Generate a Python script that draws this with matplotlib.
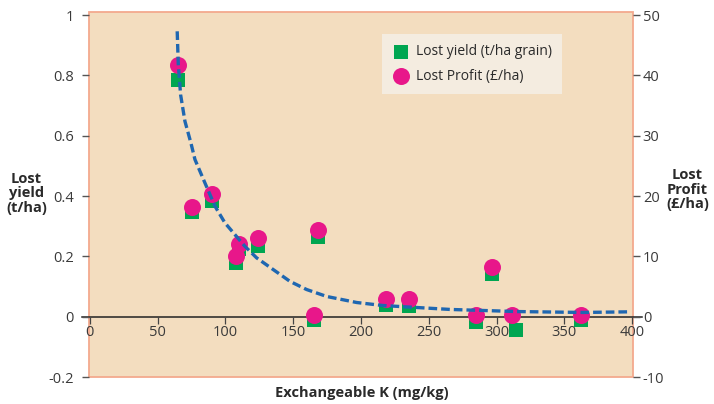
import matplotlib
matplotlib.use("Agg")
import matplotlib.pyplot as plt
from matplotlib.patches import Rectangle

plt.rcParams['font.family'] = ['Open Sans', 'DejaVu Sans']
plt.rcParams['axes.unicode_minus'] = False

# data
k_yield = [64.8, 75.6, 90.2, 107.7, 109.7, 123.8, 165.5, 168.6, 218.1, 235.4, 284.9, 296.5, 314.2, 362.2]
lost_yield = [0.784, 0.348, 0.382, 0.178, 0.225, 0.235, -0.01, 0.264, 0.040, 0.036, -0.016, 0.143, -0.043, -0.01]
k_profit = [64.8, 75.6, 90.2, 107.7, 109.7, 123.8, 165.5, 168.6, 218.1, 235.4, 284.9, 296.5, 311.7, 362.2]
lost_profit = [41.7, 18.2, 20.4, 10.1, 12.1, 13.05, 0.33, 14.4, 3.0, 3.0, 0.33, 8.2, 0.33, 0.33]

# trend curve (yield units)
fit_k = [64.4, 65.2, 66.9, 70.1, 74.5, 77.5, 84.9, 92.3, 99.6, 114.4, 123.0, 135.3, 147.6,
         159.9, 174.7, 196.8, 216.2, 265.7, 315.1, 363.8, 396.3]
fit_y = [0.946, 0.836, 0.736, 0.648, 0.576, 0.521, 0.443, 0.366, 0.311, 0.233, 0.195, 0.156, 0.117,
         0.090, 0.067, 0.047, 0.037, 0.024, 0.017, 0.014, 0.016]

x_ticks = [0, 50, 100, 150, 200, 250, 300, 350, 400]
left_ticks = [-0.2, 0, 0.2, 0.4, 0.6, 0.8, 1]
left_labels = ['-0.2', '0', '0.2', '0.4', '0.6', '0.8', '1']
right_ticks = [-10, 0, 10, 20, 30, 40, 50]

green = '#00a651'
pink = '#e8178a'
blue = '#1f67b1'
salmon = '#f3a98e'
txt = '#3a3a3a'

fig = plt.figure(figsize=(7.14, 4.04), dpi=100)
ax = fig.add_axes([0.1246, 0.0668, 0.762, 0.9035])
ax.set_facecolor('#f3ddbf')
ax.set_xlim(-0.7, 400.7)
ax.set_ylim(-0.2, 1.01)

for s in ['left', 'right', 'top']:
    ax.spines[s].set_visible(False)
ax.spines['bottom'].set_position(('data', 0))
ax.spines['bottom'].set_visible(False)
ax.add_patch(Rectangle((0, 0), 1, 1, transform=ax.transAxes, fill=False,
                       edgecolor=salmon, lw=1.3, clip_on=False, zorder=0.5))
ax.axhline(0, xmin=-0.012, xmax=1.016, color='#222222', lw=1.1, clip_on=False, zorder=1)

ax.set_xticks(x_ticks)
ax.set_xticklabels([str(v) for v in x_ticks])
ax.tick_params(axis='x', direction='out', length=5, width=0.9, color='#444444',
               labelsize=10.5, labelcolor=txt, pad=1)
ax.set_yticks(left_ticks)
ax.set_yticklabels(left_labels)
ax.tick_params(axis='y', direction='out', length=5, width=1, color='#555555',
               labelsize=10.5, labelcolor=txt, pad=6)

ax.scatter(k_yield, lost_yield, marker='s', s=95, color=green, linewidths=0, zorder=3,
           label='Lost yield (t/ha grain)')

ax2 = ax.twinx()
ax2.set_ylim(-10, 50.5)
for s in ax2.spines.values():
    s.set_visible(False)
ax2.set_yticks(right_ticks)
ax2.tick_params(axis='y', direction='out', length=5, width=1, color='#555555',
                labelsize=10.5, labelcolor=txt, pad=2)
ax2.scatter(k_profit, lost_profit, marker='o', s=150, color=pink, linewidths=0, zorder=3,
            label='Lost Profit (£/ha)')
ax2.plot(fit_k, fit_y, transform=ax.transData, color=blue, lw=2.4,
         linestyle=(0, (2.6, 1.2)), zorder=4)

h1, l1 = ax.get_legend_handles_labels()
h2, l2 = ax2.get_legend_handles_labels()
leg = ax2.legend(h1 + h2, l1 + l2, loc='upper left', bbox_to_anchor=(0.5386, 0.94),
                 borderaxespad=0, frameon=True, fancybox=False, facecolor='#f4ece0',
                 edgecolor='none', framealpha=1, fontsize=10, handletextpad=0.5,
                 labelspacing=0.7, borderpad=0.75, handlelength=1.2, scatterpoints=1)
for t in leg.get_texts():
    t.set_color('#2a2a2a')

fig.text(0.037, 0.522, 'Lost\nyield\n(t/ha)', ha='center', va='center', fontsize=10.5,
         fontweight='bold', color='#2a2a2a', linespacing=1.05)
fig.text(0.963, 0.53, 'Lost\nProfit\n(£/ha)', ha='center', va='center', fontsize=10.5,
         fontweight='bold', color='#2a2a2a', linespacing=1.05)
fig.text(0.507, 0.027, 'Exchangeable K (mg/kg)', ha='center', va='center', fontsize=10.5,
         fontweight='bold', color='#2a2a2a')

fig.savefig('out.png', dpi=100)
